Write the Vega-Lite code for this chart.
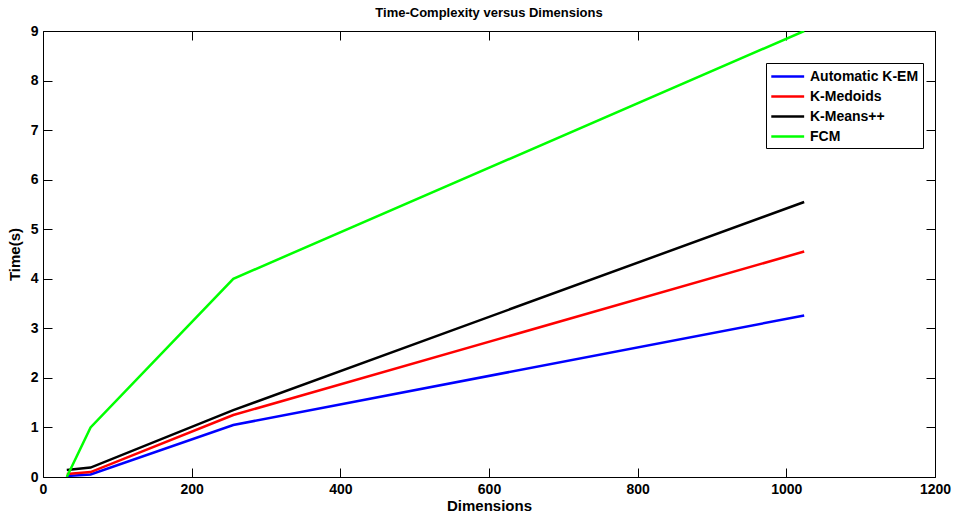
{
  "$schema": "https://vega.github.io/schema/vega-lite/v6.json",
  "autosize": {"type": "none"},
  "width": 892,
  "height": 446,
  "padding": {"left": 43, "top": 31, "right": 19, "bottom": 40},
  "background": "white",
  "title": {"text": "Time-Complexity versus Dimensions", "font": "Liberation Sans", "fontSize": 13, "fontWeight": "bold", "color": "black", "offset": 4, "anchor": "middle"},
  "config": {
    "view": {"stroke": "black", "strokeWidth": 1},
    "axis": {"grid": false, "domainColor": "black", "tickColor": "black", "labelColor": "black", "titleColor": "black", "labelFont": "Liberation Sans", "labelFontWeight": "bold", "labelFontSize": 14, "titleFont": "Liberation Sans", "titleFontWeight": "bold", "titleFontSize": 15, "tickSize": -9, "format": "d", "labelFlush": false, "labelOverlap": false}
  },
  "data": {"values": [
    {"dim": 32, "time": 0.02, "method": "Automatic K-EM"},
    {"dim": 64, "time": 0.05, "method": "Automatic K-EM"},
    {"dim": 256, "time": 1.05, "method": "Automatic K-EM"},
    {"dim": 1024, "time": 3.26, "method": "Automatic K-EM"},
    {"dim": 32, "time": 0.06, "method": "K-Medoids"},
    {"dim": 64, "time": 0.1, "method": "K-Medoids"},
    {"dim": 256, "time": 1.25, "method": "K-Medoids"},
    {"dim": 1024, "time": 4.55, "method": "K-Medoids"},
    {"dim": 32, "time": 0.14, "method": "K-Means++"},
    {"dim": 64, "time": 0.19, "method": "K-Means++"},
    {"dim": 256, "time": 1.35, "method": "K-Means++"},
    {"dim": 1024, "time": 5.55, "method": "K-Means++"},
    {"dim": 32, "time": 0.0, "method": "FCM"},
    {"dim": 64, "time": 1.0, "method": "FCM"},
    {"dim": 256, "time": 4.0, "method": "FCM"},
    {"dim": 1024, "time": 9.0, "method": "FCM"}
  ]},
  "layer": [
    {
      "mark": {"type": "line", "strokeWidth": 2.5, "clip": true},
      "encoding": {
        "x": {"field": "dim", "type": "quantitative", "scale": {"domain": [0, 1200], "nice": false}, "axis": {"title": "Dimensions", "values": [0, 200, 400, 600, 800, 1000, 1200], "labelPadding": 14, "titlePadding": 2, "domain": false}},
        "y": {"field": "time", "type": "quantitative", "scale": {"domain": [0, 9], "nice": false}, "axis": {"title": "Time(s)", "values": [0, 1, 2, 3, 4, 5, 6, 7, 8, 9], "labelPadding": 14, "titlePadding": 8, "domain": false}},
        "color": {"field": "method", "type": "nominal", "sort": null,
          "scale": {"domain": ["Automatic K-EM", "K-Medoids", "K-Means++", "FCM"], "range": ["#0000ff", "#ff0000", "#000000", "#00ff00"]},
          "legend": {"title": null, "orient": "none", "legendX": 723, "legendY": 32, "symbolType": "M-1,0H3", "symbolSize": 270, "symbolStrokeWidth": 2.5, "symbolFillColor": "transparent", "labelFont": "Liberation Sans", "labelFontWeight": "bold", "labelFontSize": 14, "labelColor": "black", "strokeColor": "black", "fillColor": "white", "padding": 4, "rowPadding": 3, "labelOffset": 21, "labelLimit": 300}
        }
      }
    },
    {
      "mark": {"type": "point", "opacity": 0},
      "encoding": {
        "x": {"field": "dim", "type": "quantitative", "scale": {"domain": [0, 1200], "nice": false}, "axis": {"orient": "top", "title": null, "labels": false, "values": [0, 200, 400, 600, 800, 1000, 1200], "domain": false}},
        "y": {"field": "time", "type": "quantitative", "scale": {"domain": [0, 9], "nice": false}, "axis": {"orient": "right", "title": null, "labels": false, "values": [0, 1, 2, 3, 4, 5, 6, 7, 8, 9], "domain": false}}
      }
    }
  ],
  "resolve": {"axis": {"x": "independent", "y": "independent"}}
}
